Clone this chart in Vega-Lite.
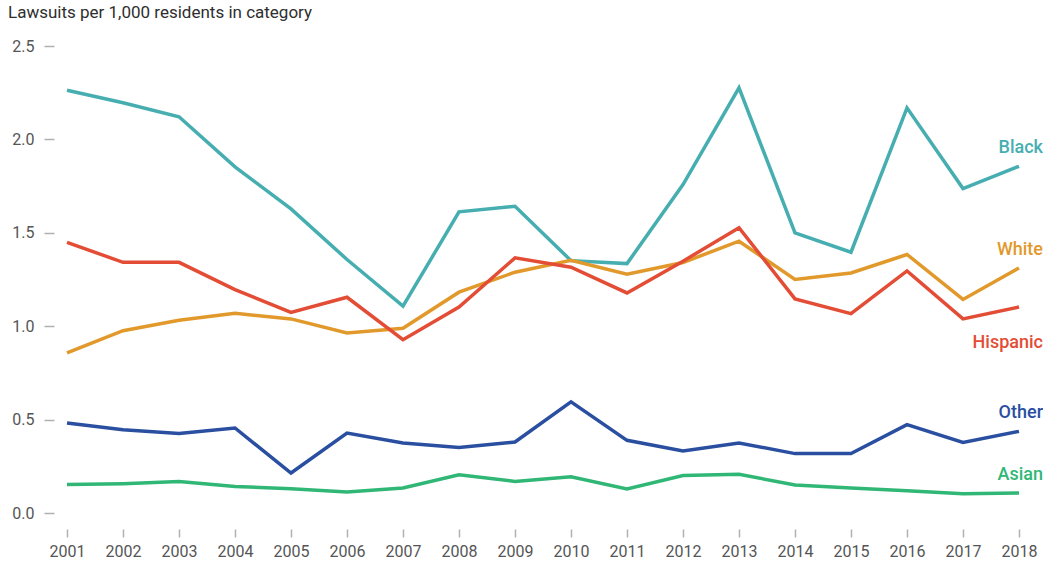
{
  "$schema": "https://vega.github.io/schema/vega-lite/v6.json",
  "width": 952,
  "height": 467,
  "autosize": {"type": "none"},
  "padding": {"left": 67, "top": 46, "right": 24, "bottom": 54},
  "background": "white",
  "config": {
    "view": {"stroke": null},
    "font": "Roboto",
    "axis": {"domain": false, "grid": false, "labelFont": "Roboto", "labelFontSize": 16, "labelColor": "#555555", "tickColor": "#b0b0b0", "tickWidth": 1.5, "title": null}
  },
  "title": {
    "text": "Lawsuits per 1,000 residents in category",
    "anchor": "start",
    "frame": "group",
    "dx": -59,
    "offset": 16,
    "font": "Roboto",
    "fontSize": 17,
    "fontWeight": "normal",
    "color": "#2e2e2e"
  },
  "data": {
    "values": [
      {"year": 2001, "group": "Black", "value": 2.263},
      {"year": 2002, "group": "Black", "value": 2.196},
      {"year": 2003, "group": "Black", "value": 2.121},
      {"year": 2004, "group": "Black", "value": 1.853},
      {"year": 2005, "group": "Black", "value": 1.628},
      {"year": 2006, "group": "Black", "value": 1.357},
      {"year": 2007, "group": "Black", "value": 1.107},
      {"year": 2008, "group": "Black", "value": 1.612},
      {"year": 2009, "group": "Black", "value": 1.642},
      {"year": 2010, "group": "Black", "value": 1.351},
      {"year": 2011, "group": "Black", "value": 1.335},
      {"year": 2012, "group": "Black", "value": 1.758},
      {"year": 2013, "group": "Black", "value": 2.276},
      {"year": 2014, "group": "Black", "value": 1.5},
      {"year": 2015, "group": "Black", "value": 1.396},
      {"year": 2016, "group": "Black", "value": 2.169},
      {"year": 2017, "group": "Black", "value": 1.737},
      {"year": 2018, "group": "Black", "value": 1.856},
      {"year": 2001, "group": "White", "value": 0.857},
      {"year": 2002, "group": "White", "value": 0.976},
      {"year": 2003, "group": "White", "value": 1.032},
      {"year": 2004, "group": "White", "value": 1.069},
      {"year": 2005, "group": "White", "value": 1.039},
      {"year": 2006, "group": "White", "value": 0.964},
      {"year": 2007, "group": "White", "value": 0.989},
      {"year": 2008, "group": "White", "value": 1.182},
      {"year": 2009, "group": "White", "value": 1.289},
      {"year": 2010, "group": "White", "value": 1.353},
      {"year": 2011, "group": "White", "value": 1.278},
      {"year": 2012, "group": "White", "value": 1.341},
      {"year": 2013, "group": "White", "value": 1.455},
      {"year": 2014, "group": "White", "value": 1.25},
      {"year": 2015, "group": "White", "value": 1.285},
      {"year": 2016, "group": "White", "value": 1.384},
      {"year": 2017, "group": "White", "value": 1.143},
      {"year": 2018, "group": "White", "value": 1.312},
      {"year": 2001, "group": "Hispanic", "value": 1.449},
      {"year": 2002, "group": "Hispanic", "value": 1.342},
      {"year": 2003, "group": "Hispanic", "value": 1.342},
      {"year": 2004, "group": "Hispanic", "value": 1.196},
      {"year": 2005, "group": "Hispanic", "value": 1.074},
      {"year": 2006, "group": "Hispanic", "value": 1.155},
      {"year": 2007, "group": "Hispanic", "value": 0.928},
      {"year": 2008, "group": "Hispanic", "value": 1.103},
      {"year": 2009, "group": "Hispanic", "value": 1.366},
      {"year": 2010, "group": "Hispanic", "value": 1.316},
      {"year": 2011, "group": "Hispanic", "value": 1.178},
      {"year": 2012, "group": "Hispanic", "value": 1.348},
      {"year": 2013, "group": "Hispanic", "value": 1.527},
      {"year": 2014, "group": "Hispanic", "value": 1.146},
      {"year": 2015, "group": "Hispanic", "value": 1.067},
      {"year": 2016, "group": "Hispanic", "value": 1.296},
      {"year": 2017, "group": "Hispanic", "value": 1.039},
      {"year": 2018, "group": "Hispanic", "value": 1.103},
      {"year": 2001, "group": "Other", "value": 0.482},
      {"year": 2002, "group": "Other", "value": 0.446},
      {"year": 2003, "group": "Other", "value": 0.425},
      {"year": 2004, "group": "Other", "value": 0.455},
      {"year": 2005, "group": "Other", "value": 0.214},
      {"year": 2006, "group": "Other", "value": 0.428},
      {"year": 2007, "group": "Other", "value": 0.375},
      {"year": 2008, "group": "Other", "value": 0.351},
      {"year": 2009, "group": "Other", "value": 0.38},
      {"year": 2010, "group": "Other", "value": 0.595},
      {"year": 2011, "group": "Other", "value": 0.389},
      {"year": 2012, "group": "Other", "value": 0.332},
      {"year": 2013, "group": "Other", "value": 0.375},
      {"year": 2014, "group": "Other", "value": 0.318},
      {"year": 2015, "group": "Other", "value": 0.318},
      {"year": 2016, "group": "Other", "value": 0.473},
      {"year": 2017, "group": "Other", "value": 0.378},
      {"year": 2018, "group": "Other", "value": 0.437},
      {"year": 2001, "group": "Asian", "value": 0.152},
      {"year": 2002, "group": "Asian", "value": 0.157},
      {"year": 2003, "group": "Asian", "value": 0.168},
      {"year": 2004, "group": "Asian", "value": 0.142},
      {"year": 2005, "group": "Asian", "value": 0.13},
      {"year": 2006, "group": "Asian", "value": 0.112},
      {"year": 2007, "group": "Asian", "value": 0.134},
      {"year": 2008, "group": "Asian", "value": 0.205},
      {"year": 2009, "group": "Asian", "value": 0.169},
      {"year": 2010, "group": "Asian", "value": 0.194},
      {"year": 2011, "group": "Asian", "value": 0.129},
      {"year": 2012, "group": "Asian", "value": 0.201},
      {"year": 2013, "group": "Asian", "value": 0.207},
      {"year": 2014, "group": "Asian", "value": 0.15},
      {"year": 2015, "group": "Asian", "value": 0.134},
      {"year": 2016, "group": "Asian", "value": 0.119},
      {"year": 2017, "group": "Asian", "value": 0.103},
      {"year": 2018, "group": "Asian", "value": 0.107}
    ]
  },
  "encoding": {
    "x": {
      "field": "year", "type": "quantitative",
      "scale": {"domain": [2001, 2018], "nice": false, "zero": false},
      "axis": {"values": [2001,2002,2003,2004,2005,2006,2007,2008,2009,2010,2011,2012,2013,2014,2015,2016,2017,2018], "format": "d", "offset": 16, "tickSize": 8, "labelPadding": 6, "labelFlush": false, "labelOverlap": false}
    },
    "y": {
      "field": "value", "type": "quantitative",
      "scale": {"domain": [0, 2.5], "nice": false},
      "axis": {"values": [0, 0.5, 1, 1.5, 2, 2.5], "format": ".1f", "offset": 13, "tickSize": 10, "labelPadding": 10, "labelFlush": false}
    },
    "color": {
      "field": "group", "type": "nominal",
      "scale": {"domain": ["Black", "White", "Hispanic", "Other", "Asian"], "range": ["#46aeb0", "#e2992b", "#e34d36", "#2a4fa1", "#30b776"]},
      "legend": null
    }
  },
  "layer": [
    {
      "mark": {"type": "line", "strokeWidth": 3.5, "strokeJoin": "miter", "strokeCap": "butt"},
      "encoding": {"detail": {"field": "group"}}
    },
    {
      "transform": [{"filter": "datum.year == 2018 && datum.group != 'Hispanic'"}],
      "mark": {"type": "text", "align": "right", "baseline": "middle", "dx": 24, "dy": -18, "font": "Roboto", "fontSize": 18, "fontWeight": 500},
      "encoding": {"text": {"field": "group"}}
    },
    {
      "transform": [{"filter": "datum.year == 2018 && datum.group == 'Hispanic'"}],
      "mark": {"type": "text", "align": "right", "baseline": "middle", "dx": 24, "dy": 36, "font": "Roboto", "fontSize": 18, "fontWeight": 500},
      "encoding": {"text": {"field": "group"}}
    }
  ]
}
